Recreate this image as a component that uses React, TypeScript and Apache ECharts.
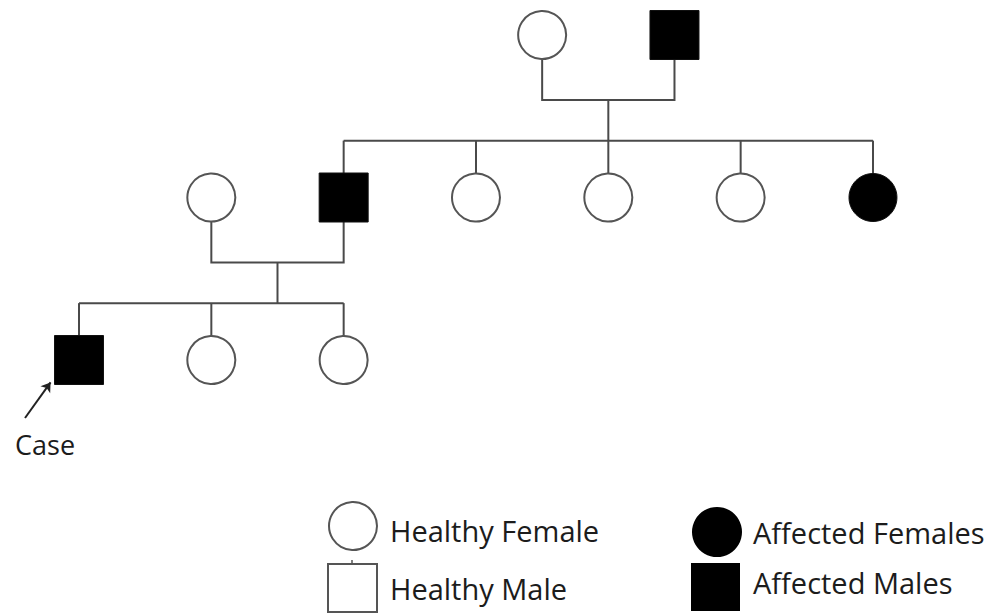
import React, { useEffect, useRef } from "react";
import * as echarts from "echarts";

// Pedigree members (generation index 0..2, slot = horizontal position unit)
const memberIds = ["I-1", "I-2", "II-1", "II-2", "II-3", "II-4", "II-5", "II-6", "III-1", "III-2", "III-3"];
const memberSex = ["F", "M", "F", "M", "F", "F", "F", "F", "M", "F", "F"];
const memberAffected = [false, true, false, true, false, false, false, true, true, false, false];
const memberGeneration = [0, 0, 1, 1, 1, 1, 1, 1, 2, 2, 2];
const memberSlot = [3.5, 4.5, 1, 2, 3, 4, 5, 6, 0, 1, 2];

// Families: parents (mother, father) and their children
const familyParents = [
  ["I-1", "I-2"],
  ["II-1", "II-2"],
];
const familyChildren = [
  ["II-2", "II-3", "II-4", "II-5", "II-6"],
  ["III-1", "III-2", "III-3"],
];

const probandId = "III-1";
const probandLabel = "Case";
const legendLabels = ["Healthy Female", "Healthy Male", "Affected Females", "Affected Males"];

const LINE = "#4a4a4a";
const FONT = '"Open Sans", "Noto Sans", sans-serif';
const TXT = "#1c1c1c";

export default function App() {
  const ref = useRef<HTMLDivElement>(null);
  useEffect(() => {
    if (!ref.current) return;
    const chart = echarts.init(ref.current, undefined, { renderer: "svg" });

    const pos: Record<string, [number, number]> = {};
    memberIds.forEach((id, i) => {
      pos[id] = [memberSlot[i], memberGeneration[i]];
    });

    const coupleDrop = 0.4;
    const sibRise = 0.35;
    const lineData: any[] = [];
    familyParents.forEach((parents, fi) => {
      const [m, f] = parents.map((p) => pos[p]);
      const g = m[1];
      const cy = g + coupleDrop;
      lineData.push({ coords: [[m[0], g], [m[0], cy], [f[0], cy], [f[0], g]] });
      const mid = (m[0] + f[0]) / 2;
      const kids = familyChildren[fi].map((c) => pos[c]);
      const kg = kids[0][1];
      const sy = kg - sibRise;
      lineData.push({ coords: [[mid, cy], [mid, sy]] });
      const xs = kids.map((k) => k[0]);
      lineData.push({ coords: [[Math.min(...xs), sy], [Math.max(...xs), sy]] });
      kids.forEach((k) => lineData.push({ coords: [[k[0], sy], [k[0], kg]] }));
    });

    const scatterData = memberIds.map((id, i) => {
      const aff = memberAffected[i];
      return {
        name: id,
        value: [memberSlot[i], memberGeneration[i]],
        symbol: memberSex[i] === "F" ? "circle" : "rect",
        symbolSize: memberSex[i] === "F" ? 48 : 49,
        itemStyle: aff
          ? { color: "#000", borderColor: "#111", borderWidth: 1, opacity: 1 }
          : { color: "#fff", borderColor: "#555", borderWidth: 2, opacity: 1 },
      };
    });

    const p = pos[probandId];
    const arrowData = [
      { coords: [[p[0] - 0.408, p[1] + 0.357], [p[0] - 0.215, p[1] + 0.138]] },
    ];

    const option: any = {
      animation: false,
      backgroundColor: "#fff",
      grid: { left: 0, right: 0, top: 0, bottom: 0 },
      xAxis: { type: "value", min: -0.597, max: 6.975, show: false },
      yAxis: { type: "value", inverse: true, min: -0.2154, max: 3.563, show: false },
      series: [
        {
          type: "lines",
          coordinateSystem: "cartesian2d",
          polyline: true,
          z: 1,
          silent: true,
          lineStyle: { color: LINE, width: 2, opacity: 1 },
          data: lineData,
        },
        {
          type: "lines",
          coordinateSystem: "cartesian2d",
          z: 3,
          silent: true,
          symbol: ["none", "arrow"],
          symbolSize: 9,
          lineStyle: { color: "#222", width: 2, opacity: 1 },
          data: arrowData,
        },
        {
          type: "scatter",
          z: 2,
          silent: true,
          itemStyle: { opacity: 1 },
          data: scatterData,
        },
      ],
      graphic: [
        {
          type: "text",
          x: 15,
          y: 444,
          style: { text: probandLabel, font: `27px ${FONT}`, fill: TXT, verticalAlign: "middle" },
        },
        // legend symbols
        {
          type: "circle",
          shape: { cx: 353, cy: 526, r: 24 },
          style: { fill: "#fff", stroke: "#555", lineWidth: 2 },
        },
        {
          type: "rect",
          shape: { x: 328, y: 564, width: 49, height: 48 },
          style: { fill: "#fff", stroke: "#555", lineWidth: 2 },
        },
        {
          type: "line",
          shape: { x1: 352, y1: 560, x2: 352, y2: 564 },
          style: { stroke: "#555", lineWidth: 1.5 },
        },
        {
          type: "circle",
          shape: { cx: 717, cy: 532, r: 25 },
          style: { fill: "#000" },
        },
        {
          type: "rect",
          shape: { x: 691, y: 563, width: 49, height: 48 },
          style: { fill: "#000" },
        },
        {
          type: "text",
          x: 390,
          y: 530,
          style: { text: legendLabels[0], font: `29px ${FONT}`, fill: TXT, verticalAlign: "middle" },
        },
        {
          type: "text",
          x: 390,
          y: 588,
          style: { text: legendLabels[1], font: `29px ${FONT}`, fill: TXT, verticalAlign: "middle" },
        },
        {
          type: "text",
          x: 753,
          y: 532,
          style: { text: legendLabels[2], font: `29px ${FONT}`, fill: TXT, verticalAlign: "middle" },
        },
        {
          type: "text",
          x: 753,
          y: 582,
          style: { text: legendLabels[3], font: `29px ${FONT}`, fill: TXT, verticalAlign: "middle" },
        },
      ],
    };
    chart.setOption(option);
    return () => chart.dispose();
  }, []);

  return (
    <div
      ref={ref}
      style={{ position: "fixed", left: 0, top: 0, width: 1002, height: 614, background: "#fff" }}
    />
  );
}
